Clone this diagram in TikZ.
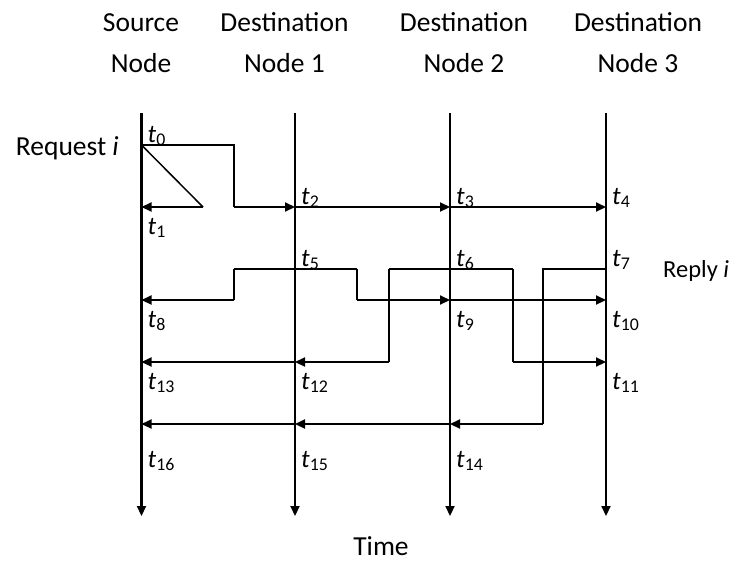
\documentclass[tikz,border=0pt]{standalone}
\usepackage{fontspec}
\setmainfont{Carlito}
\usetikzlibrary{arrows.meta}

\newcommand{\tsub}[1]{\textit{t}\textsubscript{#1}}

\begin{document}
\begin{tikzpicture}[x=1pt,y=-1pt,>={Triangle[length=10pt,width=9pt]},
    every node/.style={inner sep=0pt},
    head/.style={font=\fontsize{27.5}{41}\selectfont, align=center, anchor=base},
    tlab/.style={font=\fontsize{25.5}{30}\selectfont, anchor=base west},
    life/.style={->, line width=2.2pt},
    msg/.style={->, line width=2.2pt},
    hop/.style={line width=1.5pt}]
    \useasboundingbox (0,0) rectangle (740,563);

    % Draw the lifelines
    \foreach \n/\x in {src/141.5, d1/295, d2/450, d3/606} {
        \coordinate (\n-top) at (\x,113);
        \coordinate (\n-end) at (\x,516);
        \draw[life] (\n-top) -- (\n-end);
    }

    % Node names on top (base = second line)
    \node[head] (srcname) at (141,72) {Source\\Node};
    \node[head] (d1name) at (284.5,72) {Destination\\Node 1};
    \node[head] (d2name) at (464,72) {Destination\\Node 2};
    \node[head] (d3name) at (638,72) {Destination\\Node 3};

    % Event times on the lifelines
    \coordinate (t0) at (141.5,145);
    \coordinate (t1) at (141.5,207);
    \coordinate (t2) at (295,207);
    \coordinate (t3) at (450,207);
    \coordinate (t4) at (606,207);
    \coordinate (t5) at (295,269);
    \coordinate (t6) at (450,269);
    \coordinate (t7) at (606,269);
    \coordinate (t8) at (141.5,300);
    \coordinate (t9) at (450,300);
    \coordinate (t10) at (606,300);
    \coordinate (t11) at (606,362);
    \coordinate (t12) at (295,362);
    \coordinate (t13) at (141.5,362);
    \coordinate (t14) at (450,424);
    \coordinate (t15) at (295,424);
    \coordinate (t16) at (141.5,424);

    % Bends of the message paths
    \coordinate (q1) at (234,145);
    \coordinate (q2) at (234,207);
    \coordinate (q3) at (203,207);
    \coordinate (q4) at (234,269);
    \coordinate (q5) at (234,300);
    \coordinate (q6) at (357,269);
    \coordinate (q7) at (357,300);
    \coordinate (q8) at (389,269);
    \coordinate (q9) at (389,362);
    \coordinate (q10) at (513,269);
    \coordinate (q11) at (513,362);
    \coordinate (q12) at (543,269);
    \coordinate (q13) at (543,424);

    % Request i
    \draw[hop] (t0) -- (q1) -- (q2);
    \draw[msg] (q2) -- (t2);
    \draw[msg] (t2) -- (t3);
    \draw[msg] (t3) -- (t4);
    \draw[hop] (t0) -- (q3);
    \draw[msg] (q3) -- (t1);

    % Reply i from node 1
    \draw[hop] (q4) -- (q6);
    \draw[hop] (q6) -- (q7);
    \draw[msg] (q7) -- (t9);
    \draw[msg] (t9) -- (t10);
    \draw[hop] (q4) -- (q5);
    \draw[msg] (q5) -- (t8);

    % Reply i from node 2
    \draw[hop] (q8) -- (q10);
    \draw[hop] (q10) -- (q11);
    \draw[msg] (q11) -- (t11);
    \draw[hop] (q8) -- (q9);
    \draw[msg] (q9) -- (t12);
    \draw[msg] (t12) -- (t13);

    % Reply i from node 3
    \draw[hop] (t7) -- (q12) -- (q13);
    \draw[msg] (q13) -- (t14);
    \draw[msg] (t14) -- (t15);
    \draw[msg] (t15) -- (t16);

    % Time labels above the lines
    \foreach \k in {0,2,3,4,5,6,7}
        \node[tlab] (l\k) at ([shift={(6,-3)}]t\k) {\tsub{\k}};
    % Time labels below the lines
    \foreach \k in {1,8,9,10,11,12,13}
        \node[tlab] (l\k) at ([shift={(6,27)}]t\k) {\tsub{\k}};
    \foreach \k in {14,15,16}
        \node[tlab] (l\k) at ([shift={(6,43)}]t\k) {\tsub{\k}};

    % Side and bottom labels
    \node[head, anchor=base east] (req) at (119,155) {Request \textit{i}};
    \node[head, anchor=base west, font=\fontsize{24.5}{30}\selectfont] (rep) at (663,277) {Reply \textit{i}};
    \node[head] (time) at (381,555) {Time};
\end{tikzpicture}
\end{document}
